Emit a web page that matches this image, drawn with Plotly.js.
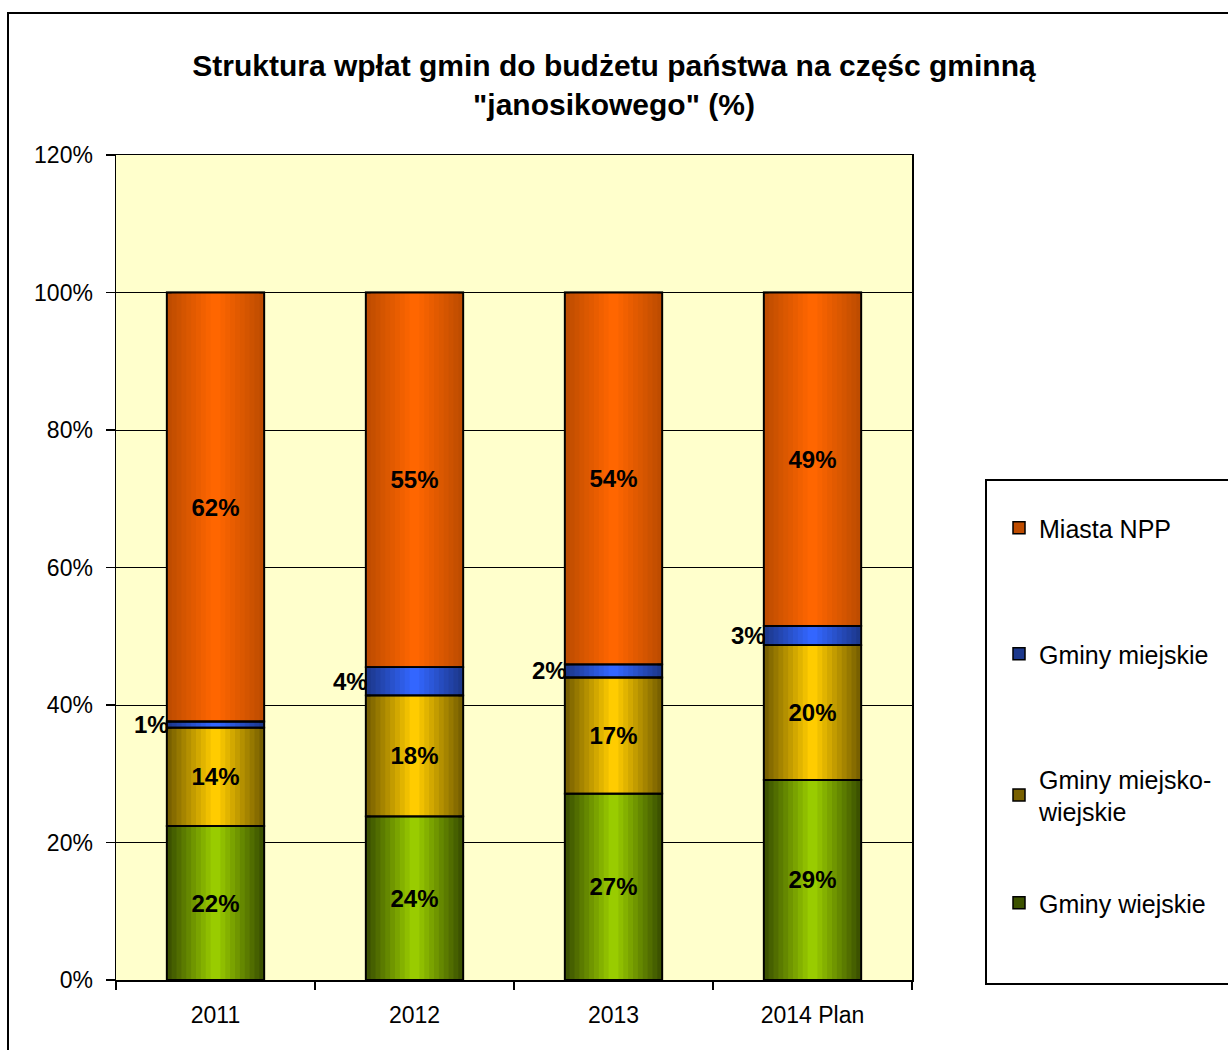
<!DOCTYPE html>
<html><head><meta charset="utf-8">
<script src="https://cdn.plot.ly/plotly-3.0.1.min.js"></script>
<style>html,body{margin:0;padding:0;background:#fff}</style>
</head><body><div id="chart" style="width:1228px;height:1050px"></div>
<script>
// ---- data (percent) ----
const years = ['2011', '2012', '2013', '2014 Plan'];
const gminyWiejskie = [22.4, 23.8, 27.1, 29.1];
const gminyMiejskoWiejskie = [14.3, 17.6, 16.9, 19.6];
const gminyMiejskie = [0.9, 4.1, 1.9, 2.8];
const miastaNPP = [62.4, 54.5, 54.1, 48.5];
const seriesNames = ['Gminy wiejskie', 'Gminy miejsko-<br>wiejskie', 'Gminy miejskie', 'Miasta NPP'];
const yTickVals = [0, 20, 40, 60, 80, 100, 120];

// ---- styles ----
const FONT = 'Arial, "Liberation Sans", sans-serif';
const seriesValues = [gminyWiejskie, gminyMiejskoWiejskie, gminyMiejskie, miastaNPP];
const seriesStyle = [
  {edge: [60, 82, 0],  center: [153, 204, 0], legend: 'legend4', inside: true},
  {edge: [120, 96, 0], center: [255, 204, 0], legend: 'legend3', inside: true},
  {edge: [28, 56, 140], center: [51, 102, 255], legend: 'legend2', inside: false},
  {edge: [190, 76, 0], center: [255, 102, 0], legend: 'legend', inside: true}
];
const BAR_W = 0.49;
const LAYERS = 10;

function lerpColor(a, b, t) {
  return 'rgb(' + a.map((v, i) => Math.round(v + (b[i] - v) * t)).join(',') + ')';
}

// cumulative bases
const bases = [];
let running = years.map(() => 0);
seriesValues.forEach(vals => {
  bases.push(running.slice());
  running = running.map((r, i) => r + vals[i]);
});

const traces = [];
seriesValues.forEach((vals, s) => {
  const st = seriesStyle[s];
  for (let k = 0; k < LAYERS; k++) {
    const t = k / (LAYERS - 1);
    traces.push({
      type: 'bar', x: years.slice(), y: vals.slice(), base: bases[s].slice(),
      width: years.map(() => BAR_W * (1 - k / LAYERS)),
      name: seriesNames[s],
      legend: st.legend,
      showlegend: k === 0,
      marker: {color: lerpColor(st.edge, st.center, t),
               line: {color: 'black', width: k === 0 ? 1.5 : 0}},
      hoverinfo: 'skip'
    });
  }
});
// outlines + inside labels
seriesValues.forEach((vals, s) => {
  const st = seriesStyle[s];
  traces.push({
    type: 'bar', x: years.slice(), y: vals.slice(), base: bases[s].slice(),
    width: years.map(() => BAR_W),
    showlegend: false,
    marker: {color: 'rgba(0,0,0,0)', line: {color: 'black', width: 1.8}},
    text: st.inside ? vals.map(v => Math.round(v) + '%') : vals.map(() => ''),
    textposition: 'inside', insidetextanchor: 'middle', constraintext: 'none',
    textangle: 0,
    textfont: {family: FONT, size: 24, color: 'black', weight: 'bold'},
    hoverinfo: 'skip'
  });
});

// blue labels left of the bars
const annotations = years.map((yr, i) => ({
  x: i, y: bases[2][i] + gminyMiejskie[i] / 2, xref: 'x', yref: 'y',
  text: Math.round(gminyMiejskie[i]) + '%', showarrow: false,
  xanchor: 'right', yanchor: 'middle', xshift: -45,
  font: {family: FONT, size: 24, color: 'black', weight: 'bold'}
}));

const W = 1228, H = 1050;
const PL = 116, PR = 912, PT = 155, PB = 980;
const px2x = p => (p - PL) / (PR - PL);
const px2y = p => (PB - p) / (PB - PT);

const legendBase = {
  xref: 'container', yref: 'container',
  x: 999 / W, xanchor: 'left', yanchor: 'middle',
  bgcolor: 'rgba(0,0,0,0)', borderwidth: 0,
  font: {family: FONT, size: 25, color: 'black'}
};

const layout = {
  width: W, height: H,
  margin: {l: PL, r: W - PR, t: PT, b: H - PB, pad: 0, autoexpand: false},
  paper_bgcolor: 'white', plot_bgcolor: '#FFFFCC',
  barmode: 'overlay',
  title: {
    text: 'Struktura wpłat gmin do budżetu państwa na częśc gminną<br>"janosikowego" (%)',
    font: {family: FONT, size: 30, color: 'black', weight: 'bold'},
    x: 0.5, xref: 'container', xanchor: 'center',
    y: 1 - 76 / H, yref: 'container', yanchor: 'middle'
  },
  xaxis: {
    type: 'category', categoryorder: 'array', categoryarray: years,
    range: [-0.5, years.length - 0.5], autorange: false, automargin: false,
    tickson: 'boundaries', ticks: 'outside', ticklen: 8, tickangle: 0,
    ticklabelstandoff: 14,
    tickcolor: 'black', tickwidth: 1.5, showline: true, linecolor: 'black', linewidth: 1.5,
    mirror: true, showgrid: false,
    tickfont: {family: FONT, size: 23, color: 'black'}
  },
  yaxis: {
    range: [0, 120], autorange: false, automargin: false,
    tickvals: yTickVals, ticktext: yTickVals.map(v => v + '%'),
    ticks: 'outside', ticklen: 9, tickcolor: 'black', tickwidth: 1.5,
    ticklabelstandoff: 8,
    showline: true, linecolor: 'black', linewidth: 1.5, mirror: true,
    showgrid: true, gridcolor: 'black', gridwidth: 1, zeroline: false,
    tickfont: {family: FONT, size: 23, color: 'black'}
  },
  legend: Object.assign({}, legendBase, {y: 1 - 528 / H}),
  legend2: Object.assign({}, legendBase, {y: 1 - 654 / H}),
  legend3: Object.assign({}, legendBase, {y: 1 - 795 / H}),
  legend4: Object.assign({}, legendBase, {y: 1 - 903 / H}),
  annotations: annotations,
  shapes: [
    {type: 'rect', xref: 'paper', yref: 'paper',
     x0: px2x(8), x1: px2x(1300), y0: px2y(1100), y1: px2y(13),
     line: {color: 'black', width: 2}, fillcolor: 'rgba(0,0,0,0)', layer: 'above'},
    {type: 'rect', xref: 'paper', yref: 'paper',
     x0: px2x(986), x1: px2x(1300), y0: px2y(984), y1: px2y(480),
     line: {color: 'black', width: 2}, fillcolor: 'rgba(0,0,0,0)', layer: 'above'}
  ],
  showlegend: true
};

Plotly.newPlot('chart', traces, layout, {displayModeBar: false, staticPlot: true});
</script>
</body></html>
